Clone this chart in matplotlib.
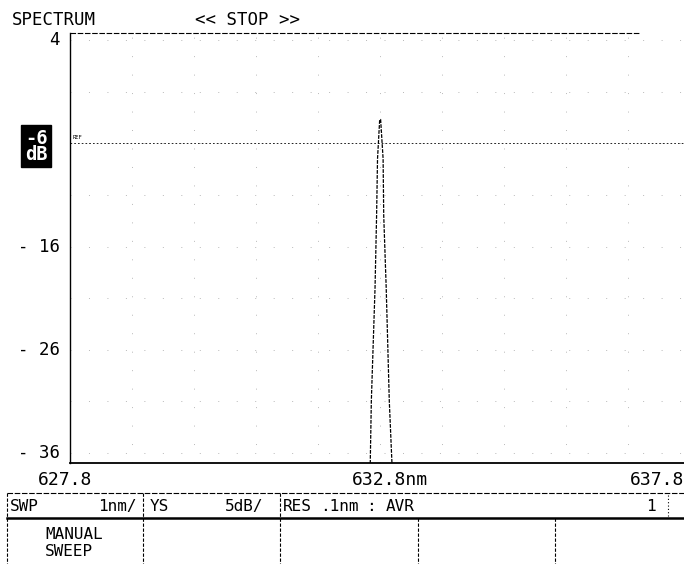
import matplotlib
matplotlib.use("Agg")
import matplotlib.pyplot as plt
import numpy as np

# Data
wavelength_nm = [627.8, 632.64, 632.66, 632.72, 632.745, 632.76, 632.795, 632.81,
                 632.85, 632.86, 632.90, 632.95, 633.00, 637.8]
power_db = [-38, -38, -31, -20, -13, -7.5, -3.7, -3.7,
            -7.5, -13, -20, -31, -38, -38]
y_ticks = [4, -16, -26, -36]
ref_level = -6
x_labels = ["627.8", "632.8nm", "637.8"]
status_texts = ["SWP", "1nm/", "YS", "5dB/", "RES", ".1nm", "AVR", "1"]

mono = "DejaVu Sans Mono"
W, H = 684, 564
fig = plt.figure(figsize=(6.84, 5.64), dpi=100)


def fx(px):
    return px / W


def fy(py):
    return 1 - py / H


# main axes: pixel box 70..690 x 33..463
ax = fig.add_axes([fx(70), fy(463), (690 - 70) / W, (463 - 33) / H])
ax.set_xlim(627.8, 637.8)
ax.set_ylim(-36.97, 4.68)
ax.plot(wavelength_nm, power_db, color="black", lw=0.9, linestyle=(0, (3, 1)))
ax.axhline(ref_level, color="black", lw=0.6, linestyle=(0, (2, 2.5)))
ax.set_xticks(np.arange(627.8, 637.81, 1.0))
ax.set_yticks(np.arange(-36, 4.01, 5))
ax.grid(True, color="#b8b8b8", lw=0.7, linestyle=(0, (1, 18)))
ax.tick_params(length=0, labelbottom=False, labelleft=False)
ax.spines["right"].set_visible(False)
ax.spines["top"].set_visible(False)
ax.plot([0, 0.92], [1, 1], transform=ax.transAxes, color="black", lw=0.8,
        linestyle=(0, (5, 1.5)), clip_on=False)
ax.spines["left"].set_linestyle((0, (6, 1)))
ax.spines["left"].set_linewidth(1.0)
ax.spines["bottom"].set_linewidth(1.3)

ax.text(627.85, ref_level + 0.3, "REF", fontsize=4, family=mono, va="bottom")

# Y labels
for v in y_ticks:
    lab = str(v) if v > 0 else "- " + str(-v)
    fig.text(fx(60), fy(40 + (4 - v) * 10.33), lab, ha="right", va="center",
             fontsize=12.5, family=mono)
fig.text(fx(36), fy(146), "-6\ndB", ha="center", va="center", fontsize=13.5,
         family=mono, color="white", fontweight="bold", linespacing=0.8,
         bbox=dict(boxstyle="square,pad=0.2", fc="black", ec="black"))

# Title
fig.text(fx(12), fy(20), "SPECTRUM", fontsize=12.5, family=mono, va="center")
fig.text(fx(195), fy(20), "<< STOP >>", fontsize=12.5, family=mono, va="center")

# X labels
fig.text(fx(38), fy(480), x_labels[0], ha="left", va="center", fontsize=13, family=mono)
fig.text(fx(352), fy(480), x_labels[1], ha="left", va="center", fontsize=13, family=mono)
fig.text(fx(684), fy(480), x_labels[2], ha="right", va="center", fontsize=13, family=mono)

# Bottom status bar
bar = fig.add_axes([0, 0, 1, fy(480)])
bar.set_xlim(0, W)
bar.set_ylim(564, 480)
bar.axis("off")
dash = (0, (3, 1.5))
bar.plot([7, 684], [493, 493], color="black", lw=0.8, linestyle=(0, (5, 1.5)))
bar.plot([7, 684], [518, 518], color="black", lw=1.8)
bar.plot([7, 7], [493, 564], color="black", lw=0.8, linestyle=dash)
for xs in [143, 280]:
    bar.plot([xs, xs], [493, 564], color="black", lw=0.8, linestyle=dash)
for xs in [418, 555]:
    bar.plot([xs, xs], [518, 564], color="black", lw=0.8, linestyle=dash)
bar.plot([668, 668], [495, 516], color="black", lw=0.8, linestyle=(0, (1, 2)))
ty = 506
fs = 11.5
pos = [10, 98, 150, 225, 283, 320, 386, 646]
for t, xp in zip(status_texts, pos):
    bar.text(xp, ty, t, fontsize=fs, family=mono, va="center")
bar.text(366, ty, ":", fontsize=fs, family=mono, va="center")
bar.text(45, 534, "MANUAL", fontsize=fs, family=mono, va="center")
bar.text(45, 551, "SWEEP", fontsize=fs, family=mono, va="center")

fig.savefig("out.png", dpi=100)
